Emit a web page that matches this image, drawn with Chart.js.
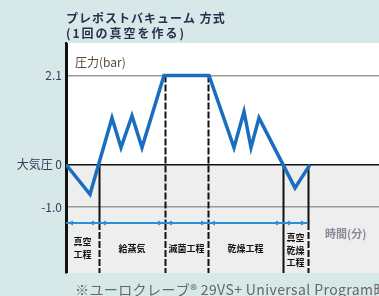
<!DOCTYPE html>
<html>
<head>
<meta charset="utf-8">
<script src="https://cdn.jsdelivr.net/npm/chart.js@4"></script>
<style>
  body { margin: 0; background: #d6e8e8; }
  canvas { display: block; }
</style>
</head>
<body>
<canvas id="chart" width="379" height="296"></canvas>
<script>
// time (arbitrary minutes) and pressure (bar)
const timeMin = [0, 2.4, 4.6, 5.5, 6.6, 7.6, 9.8, 14.3, 16.8, 17.8, 18.5, 19.3, 22.9, 24.4];
const pressureBar = [0, -0.7, 1.1, 0.4, 1.15, 0.4, 2.1, 2.1, 0.4, 1.25, 0.4, 1.1, -0.55, 0];

const yTicks = [2.1, 0, -1.0];
const yTickLabels = ['2.1', '大気圧 0', '-1.0'];

// stage boundaries and names
const stageEnds = [3.3, 9.9, 14.2, 21.7, 24.2];
const stageTops = [0, 2.1, 2.1, 0, 0];
const stageNames = [['真空', '工程'], ['給蒸気'], ['滅菌工程'], ['乾燥工程'], ['真空', '乾燥', '工程']];
const arrowLevel = -1.38;

const titleLines = ['プレポストバキューム 方式', '(1回の真空を作る)'];
const footnote = '※ユーロクレーブ® 29VS+ Universal Program時';

const JP = '"Noto Sans CJK JP", "Noto Sans", sans-serif';

const panelPlugin = {
    id: 'panel',
    beforeDraw(chart) {
        const { ctx, chartArea: a, scales: { y } } = chart;
        ctx.save();
        ctx.fillStyle = '#d6e8e8';
        ctx.fillRect(0, 0, chart.width, chart.height);
        ctx.fillStyle = '#ffffff';
        ctx.fillRect(a.left, a.top, a.right - a.left, a.bottom - a.top);
        const y0 = y.getPixelForValue(0);
        ctx.fillStyle = '#eeeeee';
        ctx.fillRect(a.left, y0, a.right - a.left, a.bottom - y0);
        ctx.restore();
    },
    beforeDatasetsDraw(chart) {
        const { ctx, chartArea: a, scales: { x, y } } = chart;
        const ya = y.getPixelForValue(arrowLevel);
        ctx.save();
        ctx.strokeStyle = '#111';
        ctx.lineWidth = 2;
        stageEnds.forEach((t, i) => {
            const px = Math.round(x.getPixelForValue(t)) + 0.5;
            const top = y.getPixelForValue(stageTops[i]);
            const dashed = i === 1 || i === 2;
            ctx.setLineDash(dashed ? [7, 2] : []);
            ctx.beginPath();
            ctx.moveTo(px, top);
            ctx.lineTo(px, ya);
            ctx.stroke();
            ctx.setLineDash(i === 3 ? [] : [7, 2]);
            ctx.beginPath();
            ctx.moveTo(px, ya);
            ctx.lineTo(px, a.bottom);
            ctx.stroke();
        });
        ctx.setLineDash([]);
        // left axis extension
        ctx.beginPath();
        ctx.moveTo(a.left + 1, a.top);
        ctx.lineTo(a.left + 1, a.bottom);
        ctx.stroke();

        // stage arrows
        const xs = [0].concat(stageEnds).map(v => x.getPixelForValue(v));
        ctx.strokeStyle = '#2a8fd6';
        ctx.fillStyle = '#2a8fd6';
        ctx.lineWidth = 2;
        ctx.beginPath();
        ctx.moveTo(xs[0], ya);
        ctx.lineTo(xs[xs.length - 1], ya);
        ctx.stroke();
        const head = (px, dir) => {
            ctx.beginPath();
            ctx.moveTo(px, ya);
            ctx.lineTo(px - dir * 5, ya - 2.5);
            ctx.lineTo(px - dir * 5, ya + 2.5);
            ctx.closePath();
            ctx.fill();
        };
        for (let i = 0; i < xs.length - 1; i++) {
            head(xs[i] + 2, -1);
            head(xs[i + 1] - 2, 1);
        }

        // stage names
        ctx.fillStyle = '#111';
        ctx.font = 'bold 9px ' + JP;
        ctx.textAlign = 'center';
        ctx.textBaseline = 'middle';
        stageNames.forEach((lines, i) => {
            const cx = (xs[i] + xs[i + 1]) / 2;
            const startY = lines.length === 1 ? 249 : lines.length === 2 ? 242 : 238;
            const step = lines.length === 2 ? 13 : 12.5;
            lines.forEach((s, j) => ctx.fillText(s, cx, startY + j * step));
        });
        ctx.restore();
    },
    afterDraw(chart) {
        const { ctx, chartArea: a } = chart;
        ctx.save();
        ctx.textBaseline = 'middle';
        ctx.textAlign = 'left';
        ctx.fillStyle = '#2d2d50';
        ctx.font = 'bold 12px ' + JP;
        ctx.letterSpacing = '1px';
        ctx.fillText(titleLines[0], a.left, 18);
        ctx.letterSpacing = '2px';
        ctx.fillText(titleLines[1], a.left, 33);
        ctx.letterSpacing = '0px';

        ctx.font = '12px ' + JP;
        ctx.fillStyle = '#5a4a3a';
        ctx.fillText('圧力(bar)', a.left + 9, 62);

        ctx.fillStyle = '#8a8a9a';
        ctx.font = 'bold 11px ' + JP;
        ctx.fillText('時間(分)', 325, 234);

        ctx.fillStyle = '#666';
        ctx.font = '14px ' + JP;
        ctx.letterSpacing = '0.4px';
        ctx.fillText(footnote, 75, 290);
        ctx.restore();
    }
};

new Chart(document.getElementById('chart'), {
    type: 'line',
    data: {
        datasets: [{
            data: timeMin.map((t, i) => ({ x: t, y: pressureBar[i] })),
            borderColor: '#1a6ec0',
            borderWidth: 3.5,
            pointRadius: 0,
            tension: 0,
            fill: false
        }]
    },
    options: {
        responsive: false,
        animation: false,
        devicePixelRatio: 1,
        layout: { padding: { top: 43, bottom: 23, left: 0, right: 0 } },
        plugins: { legend: { display: false }, tooltip: { enabled: false } },
        scales: {
            x: {
                type: 'linear',
                display: false,
                min: 0,
                max: 31.3
            },
            y: {
                min: -2.556,
                max: 2.866,
                afterBuildTicks: scale => { scale.ticks = yTicks.map(v => ({ value: v })); },
                afterFit: scale => { scale.width = 66; },
                border: { display: true, color: '#111', width: 2 },
                grid: {
                    drawTicks: false,
                    color: ctx => ctx.tick && ctx.tick.value === 0 ? '#111' : '#9a9a9a',
                    lineWidth: 1.5
                },
                ticks: {
                    padding: 4,
                    color: '#3a3a5a',
                    font: { family: JP, size: 12 },
                    callback: value => {
                        const i = yTicks.indexOf(value);
                        return i >= 0 ? yTickLabels[i] : '';
                    }
                }
            }
        }
    },
    plugins: [panelPlugin]
});
</script>
</body>
</html>
